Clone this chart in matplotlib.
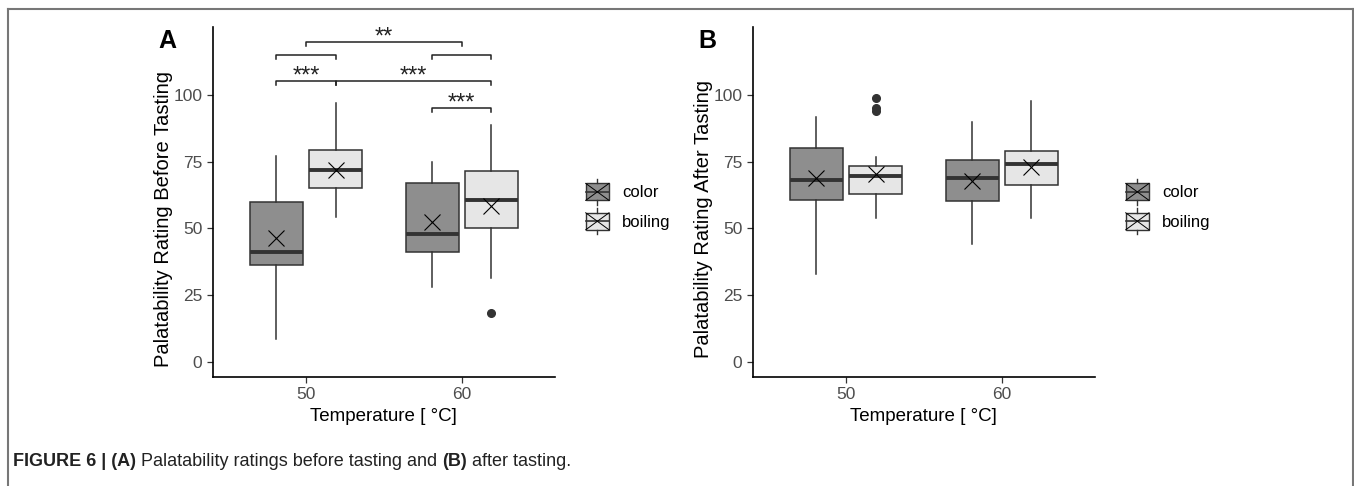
import numpy as np
import matplotlib
matplotlib.use("Agg")
import matplotlib.pyplot as plt
from matplotlib.lines import Line2D
from matplotlib.patches import Rectangle
from matplotlib.legend_handler import HandlerBase

plt.rcParams['font.family'] = ['Liberation Sans', 'DejaVu Sans']

# categories
temps = ['50', '60']
groups = ['color', 'boiling']
fills = ['#8e8e8e', '#e6e6e6']

# panel A: before tasting  (values per temperature 50, 60)
a_color_low = [8.4, 28.1]
a_color_q1 = [36.3, 41.2]
a_color_med = [41.2, 47.8]
a_color_q3 = [59.8, 67.1]
a_color_high = [77.1, 75.0]
a_color_mean = [46.5, 52.5]
a_color_out = [[], []]

a_boil_low = [54.1, 31.3]
a_boil_q1 = [65.0, 50.0]
a_boil_med = [71.9, 60.6]
a_boil_q3 = [79.5, 71.4]
a_boil_high = [96.9, 88.9]
a_boil_mean = [72.0, 58.4]
a_boil_out = [[], [18.1]]

# panel B: after tasting
b_color_low = [33.0, 44.0]
b_color_q1 = [60.5, 60.2]
b_color_med = [68.0, 69.0]
b_color_q3 = [80.2, 75.8]
b_color_high = [91.8, 89.7]
b_color_mean = [68.7, 67.7]
b_color_out = [[], []]

b_boil_low = [54.0, 54.0]
b_boil_q1 = [63.0, 66.2]
b_boil_med = [69.7, 74.0]
b_boil_q3 = [73.4, 79.0]
b_boil_high = [76.8, 97.9]
b_boil_mean = [70.2, 73.0]
b_boil_out = [[99.0, 95.0, 94.0], []]

# significance brackets for panel A: (start, end, height, label)
# start/end as (temperature index, group index)
sig_start = [(0, 0), (0, 1), (0, 0), (1, 0), (0, None), (1, 0)]
sig_end = [(0, 1), (1, 1), (0, 1), (1, 1), (1, None), (1, 1)]
sig_y = [105.3, 105.3, 115.0, 115.0, 120.0, 95.2]
sig_lab = ['***', '***', '', '', '**', '***']


def make_stats(low, q1, med, q3, high, mean, out):
    return [dict(whislo=low[i], q1=q1[i], med=med[i], q3=q3[i], whishi=high[i],
                 mean=mean[i], fliers=out[i]) for i in range(len(low))]


class BoxKey(HandlerBase):
    def create_artists(self, legend, orig_handle, xdescent, ydescent,
                       width, height, fontsize, trans):
        x0, y0 = -xdescent, -ydescent
        pad = height * 0.17
        fc = orig_handle.get_facecolor()
        rect = Rectangle((x0, y0 + pad), width, height - 2 * pad, facecolor=fc,
                         edgecolor='#333333', lw=1, transform=trans)
        xm = x0 + width / 2
        ym = y0 + height / 2
        arts = [rect]
        arts.append(Line2D([xm, xm], [y0, y0 + pad], color='#333333', lw=1, transform=trans))
        arts.append(Line2D([xm, xm], [y0 + height - pad, y0 + height], color='#333333', lw=1, transform=trans))
        arts.append(Line2D([x0, x0 + width], [ym, ym], color='#333333', lw=1.2, transform=trans))
        arts.append(Line2D([x0, x0 + width], [y0 + pad, y0 + height - pad], color='black', lw=0.7, transform=trans))
        arts.append(Line2D([x0, x0 + width], [y0 + height - pad, y0 + pad], color='black', lw=0.7, transform=trans))
        return arts


W, H = 1354, 486
fig = plt.figure(figsize=(W / 100, H / 100), dpi=100)

offs = [-0.19, 0.19]
bw = 0.34


def draw_panel(left_px, stats_list, ylab, letter, legend_x):
    ax = fig.add_axes([left_px / W, 1 - 376.7 / H, (555 - 212.7) / W, (376.7 - 26.7) / H])
    pos = np.arange(len(temps))
    for g, st in enumerate(stats_list):
        ax.bxp(st, positions=pos + offs[g], widths=bw, patch_artist=True,
               showmeans=True, showcaps=False,
               boxprops=dict(facecolor=fills[g], edgecolor='#333333', lw=1.1),
               medianprops=dict(color='#333333', lw=2.8),
               whiskerprops=dict(color='#333333', lw=1.1),
               meanprops=dict(marker='x', ms=12, mec='black', mew=0.8),
               flierprops=dict(marker='o', mfc='#333333', mec='#333333', ms=5.5))
    ax.set_xlim(-0.6, 1.6)
    ax.set_ylim(-5.6, 125.6)
    ax.set_xticks(pos)
    ax.set_xticklabels(temps)
    ax.set_yticks([0, 25, 50, 75, 100])
    for s in ['top', 'right']:
        ax.spines[s].set_visible(False)
    for s in ['left', 'bottom']:
        ax.spines[s].set_linewidth(1.2)
    ax.tick_params(colors='#333333', labelcolor='#4d4d4d', labelsize=12.5, length=4, width=0.9)
    ax.set_ylabel(ylab, fontsize=14.5)
    ax.yaxis.set_label_coords(-0.116, 0.45)
    ax.set_xlabel('Temperature [ °C]', fontsize=13.5, labelpad=4)
    fig.text((left_px - 54.7) / W, 1 - 48 / H, letter, fontsize=18, fontweight='bold', va='baseline')

    handles = [Rectangle((0, 0), 1, 1, facecolor=f) for f in fills]
    ax.legend(handles, groups, handler_map={Rectangle: BoxKey()}, loc='upper left',
              bbox_to_anchor=(legend_x / W, 1 - 179 / H), bbox_transform=fig.transFigure,
              frameon=False, fontsize=12, handlelength=1.4, handleheight=2.0,
              handletextpad=0.8, labelspacing=0.22, borderpad=0, borderaxespad=0)
    return ax


axA = draw_panel(212.7, [make_stats(a_color_low, a_color_q1, a_color_med, a_color_q3, a_color_high, a_color_mean, a_color_out),
                         make_stats(a_boil_low, a_boil_q1, a_boil_med, a_boil_q3, a_boil_high, a_boil_mean, a_boil_out)],
                 'Palatability Rating Before Tasting', 'A', 585.7)
axB = draw_panel(752.7, [make_stats(b_color_low, b_color_q1, b_color_med, b_color_q3, b_color_high, b_color_mean, b_color_out),
                         make_stats(b_boil_low, b_boil_q1, b_boil_med, b_boil_q3, b_boil_high, b_boil_mean, b_boil_out)],
                 'Palatability Rating After Tasting', 'B', 1125.7)


def xpos(p):
    t, g = p
    return t if g is None else t + offs[g]


# significance brackets
tip = 1.5
for s, e, y, lab in zip(sig_start, sig_end, sig_y, sig_lab):
    x1, x2 = xpos(s), xpos(e)
    axA.plot([x1, x1, x2, x2], [y - tip, y, y, y - tip], color='#222222', lw=1.1, clip_on=False)
    if lab:
        axA.text((x1 + x2) / 2, y - 0.6, lab, ha='center', va='baseline', fontsize=17, color='#222222')

# figure frame
fc = '#777777'
fig.add_artist(Line2D([8 / W, 8 / W], [0, 1 - 9 / H], transform=fig.transFigure, color=fc, lw=1.5))
fig.add_artist(Line2D([8 / W, 1353 / W], [1 - 9 / H, 1 - 9 / H], transform=fig.transFigure, color=fc, lw=1.5))
fig.add_artist(Line2D([1353 / W, 1353 / W], [0, 1 - 9 / H], transform=fig.transFigure, color=fc, lw=1.5))

# caption with bold parts
parts = [('FIGURE 6 | (A)', 'bold'), (' Palatability ratings before tasting and ', 'normal'),
         ('(B)', 'bold'), (' after tasting.', 'normal')]
renderer = fig.canvas.get_renderer()
x = 13
for txt, wt in parts:
    t = fig.text(x / W, 1 - 466 / H, txt, fontsize=13, fontweight=wt, va='baseline', color='#222222')
    bb = t.get_window_extent(renderer)
    x += bb.width

fig.savefig('out.png', dpi=100)
